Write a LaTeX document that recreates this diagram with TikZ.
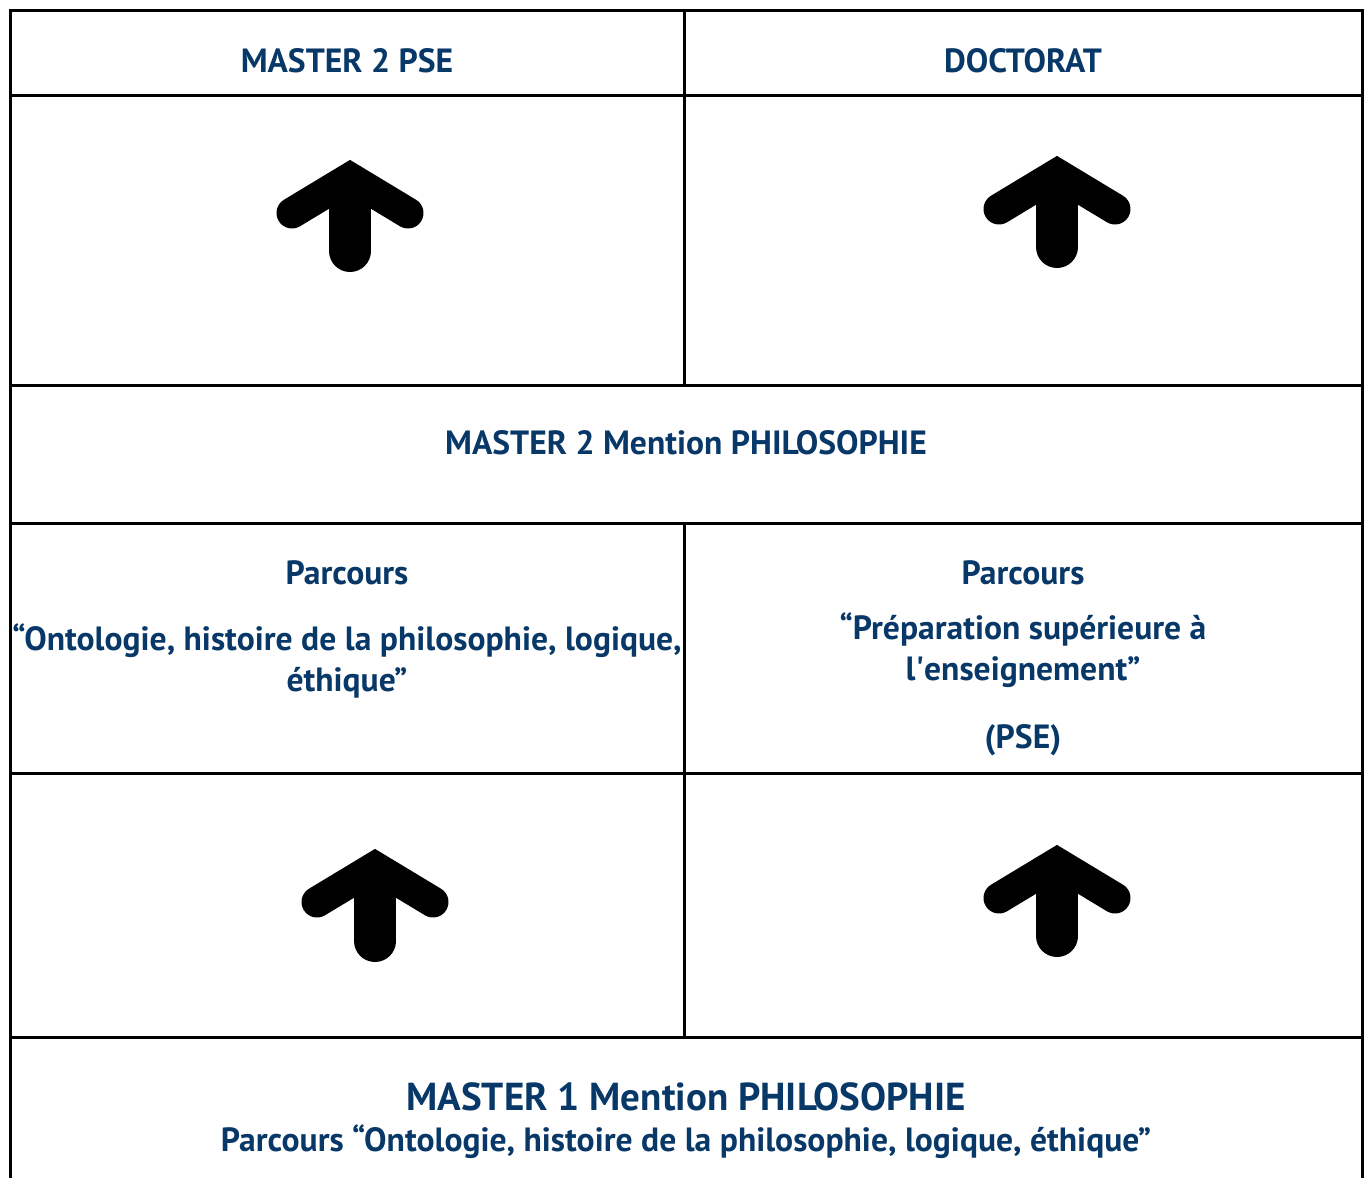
\documentclass[tikz,border=0pt]{standalone}
\usepackage{fontspec}
\setmainfont{PT Sans}
\usetikzlibrary{positioning}
\definecolor{navy}{RGB}{8,56,104}

\tikzset{
	rule/.style={line width=3pt},
	lbl/.style={text=navy,font=\bfseries\fontsize{33.6}{41}\selectfont,align=center,inner sep=0pt},
	biglbl/.style={lbl,font=\bfseries\fontsize{39}{44}\selectfont},
	upicon/.style={line width=31pt,line cap=round,line join=miter},
}
% up arrow: centre x, tip y, bottom y
\newcommand{\uparrowicon}[3]{%
	\draw[upicon] (#1-58,#2+53) -- (#1,#2+18) -- (#1+58,#2+53);
	\fill (#1-21,#2+30) rectangle (#1+21,#3-21);
	\fill (#1,#3-21) circle (21pt);
}

\begin{document}
\begin{tikzpicture}[x=1pt,y=-1pt]
	\useasboundingbox (0,0) rectangle (1369,1178);

	% frame and rules
	\draw[rule] (10,1178) -- (10,10) -- (1362,10) -- (1362,1178);
	\foreach \y in {95,385,523,773,1037}
		\draw[rule] (10,\y) -- (1362,\y);
	\draw[rule] (684,10) -- (684,385);
	\draw[rule] (684,523) -- (684,1037);

	% labels
	\node[lbl] (m2pse) at (347,61) {MASTER 2 PSE};
	\node[lbl] (doct) at (1023,61) {DOCTORAT};
	\node[lbl] (m2phil) at (686,443) {MASTER 2 Mention PHILOSOPHIE};
	\node[lbl] (parcL) at (347,573) {Parcours};
	\node[lbl] (ontoL) at (347,661) {“Ontologie, histoire de la philosophie, logique,\\éthique”};
	\node[lbl] (parcR) at (1023,573) {Parcours};
	\node[lbl] (prepR) at (1023,650) {“Préparation supérieure à\\l\textquotesingle enseignement”};
	\node[lbl] (pse) at (1023,740) {(PSE)};
	\node[biglbl] (m1phil) at (686,1097) {MASTER 1 Mention PHILOSOPHIE};
	\node[lbl] (ontoB) at (686,1142) {Parcours “Ontologie, histoire de la philosophie, logique, éthique”};

	% arrows
	\uparrowicon{350}{160}{272}
	\uparrowicon{1057}{156}{268}
	\uparrowicon{375}{849}{962}
	\uparrowicon{1057}{845}{957}
\end{tikzpicture}
\end{document}
